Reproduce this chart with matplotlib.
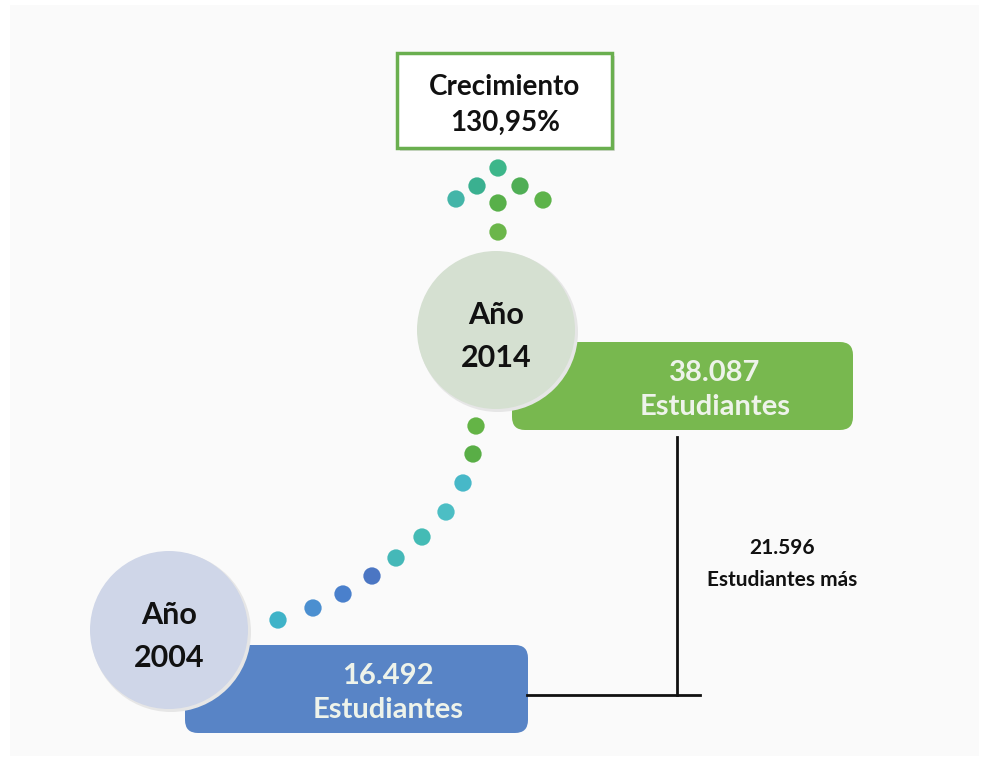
import matplotlib.pyplot as plt
from matplotlib.patches import FancyBboxPatch, Circle, Rectangle

# data
years = [2004, 2014]
students = [16492, 38087]
extra_students = 21596
growth_pct = 130.95

def es_num(v):
    return f"{v:,}".replace(",", ".")

plt.rcParams['font.family'] = ['Lato', 'DejaVu Sans']

fig = plt.figure(figsize=(9.89, 7.61), dpi=100)
ax = fig.add_axes([0, 0, 1, 1])
ax.set_xlim(0, 989)
ax.set_ylim(761, 0)
ax.axis('off')

# background panel
ax.add_patch(Rectangle((10, 5), 969, 751, facecolor='#fafafa', edgecolor='none', zorder=0))

# layout (pixel space)
bar_boxes = [(185, 645, 343, 88), (512, 342, 341, 88)]   # x, y, w, h
bar_colors = ['#5884c6', '#78b84f']
bar_text_x = [388, 715]
circ_centers = [(169, 630), (496, 330)]
circ_r = 79
circ_colors = ['#cfd6e8', '#d5e0d1']

for i in range(2):
    x, y, w, h = bar_boxes[i]
    ax.add_patch(FancyBboxPatch((x, y), w, h, boxstyle="round,pad=0,rounding_size=13",
                                facecolor=bar_colors[i], edgecolor='none', zorder=2))
    ax.text(bar_text_x[i], y + 31, es_num(students[i]), color='#eef3ea', fontsize=21,
            fontweight='bold', ha='center', va='center', zorder=5)
    ax.text(bar_text_x[i], y + 65, 'Estudiantes', color='#eef3ea', fontsize=21,
            fontweight='bold', ha='center', va='center', zorder=5)

    cx, cy = circ_centers[i]
    ax.add_patch(Circle((cx + 2, cy + 2), circ_r + 1, facecolor='#e6e6e6', edgecolor='none', zorder=2.5))
    ax.add_patch(Circle((cx, cy), circ_r, facecolor=circ_colors[i], edgecolor='none', zorder=3))
    ax.text(cx, cy - 15, 'Año', color='#111111', fontsize=22, fontweight='bold',
            ha='center', va='center', zorder=5)
    ax.text(cx, cy + 28, str(years[i]), color='#111111', fontsize=22, fontweight='bold',
            ha='center', va='center', zorder=5)

# difference bracket
ax.plot([677, 677], [437, 695], color='#111111', lw=2, zorder=4)
ax.plot([527, 700], [695, 695], color='#111111', lw=2, zorder=4)
ax.text(782, 548, es_num(extra_students), color='#111111', fontsize=15, fontweight='bold',
        ha='center', va='center')
ax.text(782, 580, 'Estudiantes más', color='#111111', fontsize=15, fontweight='bold',
        ha='center', va='center')

# growth box
ax.add_patch(Rectangle((400, 56), 215, 95, facecolor='#dcdcdc', edgecolor='none', zorder=1))
ax.add_patch(Rectangle((397, 53), 215, 95, facecolor='white', edgecolor='#6aaf4f', lw=2.5, zorder=2))
ax.text(505, 87, 'Crecimiento', color='#111111', fontsize=20, fontweight='bold',
        ha='center', va='center', zorder=5)
ax.text(505, 123, f"{growth_pct:.2f}%".replace(".", ","), color='#111111', fontsize=20,
        fontweight='bold', ha='center', va='center', zorder=5)

# dotted path from 2004 to 2014 and arrow of dots
path_x = [278, 313, 343, 372, 396, 422, 446, 463, 473, 476]
path_y = [620, 608, 594, 576, 558, 537, 512, 483, 454, 426]
path_c = ['#3fb3c8', '#4b8fd0', '#4a80cc', '#4b76c3', '#45b8b8', '#44bbb5',
          '#4cbec4', '#47b8c8', '#59ae46', '#64b446']
arrow_x = [498, 477, 520, 456, 498, 543, 498]
arrow_y = [168, 186, 186, 199, 203, 200, 232]
arrow_c = ['#3db68a', '#3ab090', '#4fae55', '#44b5a8', '#58b04a', '#5db34a', '#6bb64a']

ax.scatter(path_x, path_y, s=155, c=path_c, edgecolors='none', zorder=4)
ax.scatter(arrow_x, arrow_y, s=155, c=arrow_c, edgecolors='none', zorder=4)

fig.savefig('out.png', dpi=100, facecolor='white')
